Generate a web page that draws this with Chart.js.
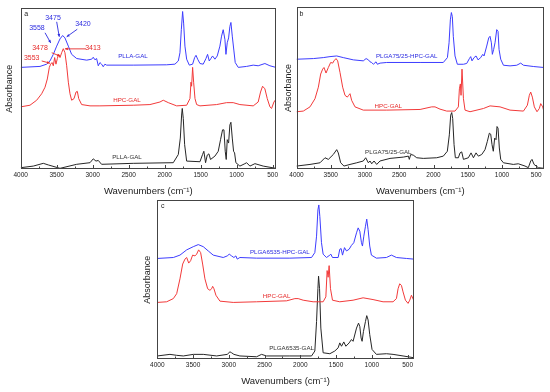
<!DOCTYPE html>
<html>
<head>
<meta charset="utf-8">
<script src="https://cdn.jsdelivr.net/npm/chart.js@4.4.1/dist/chart.umd.min.js"></script>
<style>
  body { margin: 0; background: #fff; width: 550px; height: 392px; position: relative; overflow: hidden; }
  canvas { position: absolute; }
</style>
</head>
<body>
<canvas id="panelA" width="280" height="198"></canvas>
<canvas id="panelB" width="264" height="198"></canvas>
<canvas id="panelC" width="275" height="198"></canvas>
<script>
// FTIR spectra, three panels. x = wavenumber (cm-1), y = absorbance (a.u., offset per trace)

const xTickValues = [4000, 3500, 3000, 2500, 2000, 1500, 1000, 500];
const minorStep = 250;

// ---- panel a ----
const aPllaGalTop = [[4000,63.3],[3732,63.9],[3639,65.3],[3593,67.3],[3547,71.4],[3500,76.5],[3454,81.0],[3417,83.1],[3385,81.6],[3338,76.5],[3292,71.4],[3222,68.8],[3083,67.8],[3014,68.4],[2992,69.6],[2968,68.0],[2945,68.8],[2922,64.3],[2899,66.3],[2876,65.3],[2853,63.7],[2830,65.3],[2806,64.7],[2436,64.7],[1972,64.9],[1857,65.3],[1810,67.3],[1787,72.4],[1768,86.7],[1750,98.0],[1736,90.8],[1718,76.5],[1694,68.4],[1657,64.7],[1611,65.3],[1583,69.4],[1564,70.8],[1541,68.4],[1509,65.7],[1464,65.3],[1426,68.8],[1403,71.4],[1380,67.3],[1357,68.8],[1334,70.4],[1301,68.4],[1269,70.4],[1232,76.5],[1209,82.7],[1186,86.7],[1162,80.6],[1148,71.4],[1130,78.6],[1111,81.6],[1093,88.8],[1079,91.2],[1060,82.7],[1037,73.5],[1019,66.3],[977,63.3],[861,63.9],[769,64.7],[700,64.3],[607,65.7],[537,64.3],[454,63.3]];
const aHpcGal = [[4000,38.8],[3871,39.8],[3778,42.9],[3709,46.9],[3662,51.0],[3630,56.1],[3602,63.3],[3584,65.3],[3565,66.3],[3547,64.3],[3528,69.4],[3510,65.3],[3491,68.8],[3472,71.4],[3454,69.4],[3431,72.4],[3408,74.9],[3385,72.4],[3361,64.3],[3338,54.1],[3315,46.9],[3292,42.9],[3259,43.9],[3231,48.0],[3213,48.4],[3194,43.9],[3153,40.2],[3037,39.4],[2899,39.4],[2436,39.8],[2204,40.2],[2065,41.8],[2019,42.9],[1949,41.4],[1833,39.4],[1694,39.8],[1648,43.9],[1634,54.1],[1625,51.6],[1611,63.3],[1597,54.1],[1578,43.9],[1555,40.2],[1509,39.4],[1278,40.2],[1139,41.4],[1047,41.4],[954,40.2],[769,39.4],[700,41.8],[667,48.0],[639,51.6],[607,50.0],[574,43.9],[537,38.8],[514,37.8],[481,41.8],[463,42.9],[454,40.5]];
const aPllaGal = [[4000,1.0],[3825,2.0],[3686,3.7],[3616,2.7],[3454,0.6],[3222,3.1],[3037,4.1],[2992,6.5],[2954,5.1],[2922,5.5],[2876,3.1],[2436,3.7],[1880,4.1],[1810,9.2],[1782,19.4],[1764,33.7],[1755,37.8],[1741,31.6],[1722,15.3],[1694,5.1],[1509,4.7],[1473,9.2],[1455,11.2],[1431,4.1],[1408,8.8],[1385,9.6],[1362,6.1],[1301,8.2],[1255,11.2],[1223,18.4],[1195,24.5],[1176,24.5],[1158,11.2],[1144,6.1],[1130,18.4],[1111,16.3],[1093,27.6],[1079,29.2],[1060,19.4],[1042,11.2],[1028,10.2],[1010,4.1],[954,2.0],[884,3.5],[861,4.1],[815,2.0],[745,3.5],[630,2.0],[454,0.6]];

// ---- panel b ----
const bPlga7525HpcGal = [[4000,67.7],[3754,68.1],[3609,68.7],[3511,69.3],[3413,69.7],[3317,68.7],[3170,67.3],[3025,66.7],[2984,68.1],[2950,67.3],[2927,66.1],[2903,65.7],[2878,64.6],[2839,66.1],[2820,64.6],[2780,65.3],[2683,65.7],[2196,65.7],[1857,65.7],[1797,68.7],[1773,77.8],[1754,91.9],[1739,96.4],[1725,93.9],[1711,81.8],[1686,69.7],[1652,64.6],[1563,64.6],[1515,65.1],[1476,68.1],[1457,69.3],[1438,66.7],[1408,68.7],[1379,69.7],[1350,67.3],[1311,68.7],[1281,70.7],[1262,69.7],[1223,75.8],[1194,80.8],[1175,81.8],[1155,77.8],[1141,70.7],[1122,73.7],[1102,77.8],[1077,85.9],[1058,84.8],[1043,73.7],[1019,67.7],[979,64.0],[883,63.6],[785,64.0],[727,65.3],[687,64.0],[537,63.2],[387,62.6]];
const bHpcGal = [[4000,35.4],[3901,35.8],[3803,38.4],[3730,43.4],[3681,50.5],[3647,58.6],[3618,61.6],[3599,62.6],[3569,59.2],[3535,62.6],[3501,65.7],[3472,65.3],[3453,66.7],[3423,68.1],[3399,66.7],[3365,59.6],[3326,50.5],[3292,45.5],[3258,44.4],[3238,45.5],[3219,46.5],[3195,42.4],[3146,38.4],[3025,36.4],[2683,36.4],[2196,36.8],[2026,38.4],[1978,38.4],[1905,37.0],[1807,35.8],[1686,35.8],[1637,38.4],[1622,49.5],[1608,52.5],[1598,45.5],[1584,61.6],[1563,43.4],[1540,36.4],[1467,35.4],[1271,37.4],[1175,39.0],[1029,38.4],[883,36.4],[687,35.8],[630,39.4],[601,45.5],[581,47.5],[557,44.4],[528,38.4],[489,35.4],[455,37.4],[435,40.4],[406,38.4],[387,35.4]];
const bPlga7525Gal = [[4000,2.0],[3803,3.0],[3657,4.0],[3584,7.1],[3535,6.1],[3463,9.1],[3413,12.1],[3390,10.1],[3355,4.0],[3307,2.0],[3219,3.0],[3121,4.0],[3025,5.1],[2990,7.1],[2951,4.0],[2927,5.1],[2902,3.4],[2868,5.1],[2829,3.0],[2781,5.1],[2635,6.7],[2441,7.5],[2367,8.1],[2353,6.1],[2333,9.1],[2295,8.7],[2245,7.1],[2149,6.7],[1953,7.1],[1857,8.1],[1798,11.1],[1769,21.2],[1749,33.3],[1734,34.9],[1720,31.3],[1700,15.2],[1681,7.1],[1637,7.1],[1613,10.1],[1588,10.7],[1563,6.1],[1491,7.1],[1452,10.1],[1417,7.1],[1379,10.1],[1345,8.1],[1296,9.1],[1248,12.1],[1214,17.2],[1185,22.2],[1165,21.6],[1146,15.2],[1127,11.1],[1107,19.2],[1087,18.2],[1073,26.3],[1058,25.3],[1039,13.1],[1019,6.1],[979,4.0],[835,3.0],[762,3.4],[664,2.0],[616,1.0],[581,5.1],[562,6.1],[532,3.0],[470,1.0],[387,0.6]];

// ---- panel c ----
const cPlga6535HpcGal = [[4000,63.3],[3776,63.9],[3683,65.4],[3589,68.7],[3497,70.7],[3427,72.0],[3357,70.7],[3287,68.0],[3218,65.4],[3078,63.9],[3022,64.9],[2994,66.0],[2961,64.9],[2929,63.9],[2901,64.9],[2882,62.9],[2845,63.9],[2611,63.5],[2146,63.5],[1843,63.9],[1797,67.0],[1773,77.3],[1754,93.8],[1741,96.9],[1727,89.7],[1704,73.2],[1681,66.0],[1634,63.9],[1587,65.4],[1573,66.0],[1550,63.9],[1471,63.9],[1448,69.1],[1429,69.5],[1410,65.4],[1382,70.1],[1354,68.0],[1317,69.1],[1285,71.5],[1252,73.2],[1214,79.4],[1191,82.5],[1168,80.4],[1145,73.2],[1131,71.1],[1112,77.3],[1089,83.5],[1071,88.0],[1052,81.4],[1029,71.1],[1006,65.4],[936,63.5],[796,63.9],[726,65.4],[656,63.9],[516,63.3],[415,62.9]];
const cHpcGal = [[4000,35.7],[3869,36.1],[3776,38.1],[3729,41.2],[3683,50.5],[3645,59.8],[3613,62.9],[3589,63.9],[3561,60.4],[3534,61.9],[3506,65.4],[3473,64.9],[3450,66.0],[3422,68.7],[3394,67.0],[3366,59.8],[3334,50.5],[3296,44.3],[3264,43.3],[3240,44.3],[3226,45.8],[3208,44.3],[3180,40.2],[3124,36.5],[2938,35.7],[2611,36.1],[2192,36.7],[2076,38.1],[2030,38.1],[1960,37.1],[1821,36.1],[1681,36.1],[1643,39.2],[1625,55.7],[1611,51.5],[1597,58.8],[1578,44.3],[1550,37.1],[1448,36.1],[1262,37.1],[1122,38.6],[983,37.5],[843,36.1],[703,36.1],[656,38.1],[633,44.3],[610,47.4],[586,46.4],[563,42.3],[530,37.1],[493,35.1],[470,37.1],[446,40.2],[415,37.1]];
const cPlga6535Gal = [[4000,2.1],[3823,3.1],[3729,2.5],[3636,2.1],[3497,3.1],[3357,3.1],[3170,2.1],[3022,3.1],[2984,4.7],[2961,4.1],[2929,3.1],[2845,2.1],[2611,1.6],[2542,3.1],[2472,2.1],[2146,2.1],[1843,2.1],[1797,5.2],[1773,23.7],[1754,44.3],[1745,52.2],[1731,44.3],[1713,19.6],[1681,4.1],[1587,3.5],[1518,5.2],[1471,7.2],[1448,10.3],[1424,8.2],[1392,10.9],[1363,8.2],[1317,10.3],[1285,12.4],[1262,11.3],[1214,19.6],[1186,22.7],[1168,20.6],[1150,13.4],[1136,11.3],[1117,17.5],[1089,23.7],[1071,27.4],[1052,24.7],[1029,15.5],[997,6.2],[936,3.1],[796,3.5],[703,3.1],[563,2.1],[415,1.0]];

const BLUE = '#3d3dff';
const RED = '#f23a3a';
const BLACK = '#262626';
const FONT = '"Liberation Sans", Arial, sans-serif';

function trace(label, points, color) {
    return {
        label: label,
        data: points.map(p => ({ x: p[0], y: p[1] })),
        borderColor: color,
        borderWidth: 1,
        pointRadius: 0,
        tension: 0,
        fill: false
    };
}

// frame round the plot area, with short inward ticks on the bottom edge
const frameTicks = {
    id: 'frameTicks',
    afterDatasetsDraw(chart) {
        const { ctx, chartArea: a, scales: { x } } = chart;
        const l = Math.round(a.left) + 0.5, r = Math.round(a.right) - 0.5;
        const t = Math.round(a.top) + 0.5, b = Math.round(a.bottom) - 0.5;
        ctx.save();
        ctx.strokeStyle = '#444';
        ctx.lineWidth = 1;
        ctx.strokeRect(l, t, r - l, b - t);
        for (let v = 4000; v >= x.min; v -= minorStep) {
            const px = Math.round(x.getPixelForValue(v)) + 0.5;
            const len = v % 500 === 0 ? 3.5 : 2;
            ctx.beginPath();
            ctx.moveTo(px, b);
            ctx.lineTo(px, b - len);
            ctx.stroke();
        }
        ctx.restore();
    }
};

// trace names, band positions and arrows, placed in data units
function panelText(items, arrows) {
    return {
        id: 'panelText',
        afterDatasetsDraw(chart) {
            const { ctx, scales: { x, y } } = chart;
            ctx.save();
            arrows.forEach(a => {
                const x1 = x.getPixelForValue(a.from[0]), y1 = y.getPixelForValue(a.from[1]);
                const x2 = x.getPixelForValue(a.to[0]), y2 = y.getPixelForValue(a.to[1]);
                const ang = Math.atan2(y2 - y1, x2 - x1);
                ctx.strokeStyle = a.color;
                ctx.fillStyle = a.color;
                ctx.lineWidth = 0.9;
                ctx.beginPath();
                ctx.moveTo(x1, y1);
                ctx.lineTo(x2, y2);
                ctx.stroke();
                ctx.beginPath();
                ctx.moveTo(x2, y2);
                ctx.lineTo(x2 - 3.2 * Math.cos(ang - 0.45), y2 - 3.2 * Math.sin(ang - 0.45));
                ctx.lineTo(x2 - 3.2 * Math.cos(ang + 0.45), y2 - 3.2 * Math.sin(ang + 0.45));
                ctx.closePath();
                ctx.fill();
            });
            items.forEach(t => {
                ctx.font = (t.size || 6.2) + 'px ' + FONT;
                ctx.fillStyle = t.color;
                ctx.textAlign = t.align || 'center';
                ctx.textBaseline = 'middle';
                ctx.fillText(t.text, x.getPixelForValue(t.x), y.getPixelForValue(t.y));
            });
            ctx.restore();
        }
    };
}

function makePanel(p) {
    const canvas = document.getElementById(p.id);
    canvas.style.left = p.left + 'px';
    canvas.style.top = p.top + 'px';
    new Chart(canvas, {
        type: 'line',
        data: { datasets: p.sets },
        options: {
            responsive: false,
            animation: false,
            events: [],
            layout: { padding: { top: p.padTop, right: 0, bottom: 0, left: 0 } },
            plugins: { legend: { display: false }, tooltip: { enabled: false } },
            scales: {
                x: {
                    type: 'linear',
                    reverse: true,
                    min: p.xMin,
                    max: 4000,
                    grid: { display: false, drawTicks: false },
                    border: { display: false },
                    afterBuildTicks: s => { s.ticks = xTickValues.filter(v => v >= p.xMin).map(v => ({ value: v })); },
                    ticks: {
                        autoSkip: false, maxRotation: 0, padding: 2, color: '#222',
                        font: { family: FONT, size: 6.5 },
                        callback: v => String(v)
                    },
                    title: {
                        display: true, text: 'Wavenumbers (cm⁻¹)', color: '#222',
                        font: { family: FONT, size: 9.5 },
                        padding: { top: 4.5, bottom: 1 }
                    }
                },
                y: {
                    min: 0,
                    max: 100,
                    grid: { display: false, drawTicks: false },
                    border: { display: false },
                    ticks: { display: false },
                    title: {
                        display: true, text: 'Absorbance', color: '#222',
                        font: { family: FONT, size: 9 },
                        padding: { top: p.yPad[0], bottom: p.yPad[1] }
                    }
                }
            }
        },
        plugins: [frameTicks, panelText(p.texts, p.arrows || [])]
    });
}

makePanel({
    id: 'panelA', left: 0, top: 0, padTop: 8.3, xMin: 454, yPad: [4.6, 5.3],
    sets: [
        trace('PLLA-GAL (top)', aPllaGalTop, BLUE),
        trace('HPC-GAL', aHpcGal, RED),
        trace('PLLA-GAL', aPllaGal, BLACK)
    ],
    texts: [
        { text: 'a', x: 3950, y: 96.7, align: 'left', color: '#222', size: 7 },
        { text: 'PLLA-GAL', x: 2440, y: 70.1, color: '#2b2be0' },
        { text: 'HPC-GAL', x: 2523, y: 42.7, color: '#e62a2a' },
        { text: 'PLLA-GAL', x: 2523, y: 7.3, color: '#333' },
        { text: '3558', x: 3774, y: 87.8, color: '#2b2be0', size: 7 },
        { text: '3475', x: 3551, y: 93.9, color: '#2b2be0', size: 7 },
        { text: '3420', x: 3135, y: 90.2, color: '#2b2be0', size: 7 },
        { text: '3478', x: 3732, y: 75.6, color: '#e62a2a', size: 7 },
        { text: '3553', x: 3847, y: 69.3, color: '#e62a2a', size: 7 },
        { text: '3413', x: 2996, y: 75.6, color: '#e62a2a', size: 7 }
    ],
    arrows: [
        { from: [3662, 84.8], to: [3583, 78.5], color: '#2b2be0' },
        { from: [3500, 91.6], to: [3464, 82.3], color: '#2b2be0' },
        { from: [3214, 87.0], to: [3361, 82.3], color: '#2b2be0' },
        { from: [3569, 72.4], to: [3454, 70.3], color: '#e62a2a' },
        { from: [3708, 67.3], to: [3593, 65.9], color: '#e62a2a' },
        { from: [3093, 74.8], to: [3385, 74.8], color: '#e62a2a' }
    ]
});

makePanel({
    id: 'panelB', left: 280, top: 0, padTop: 6.7, xMin: 387, yPad: [2.9, 2.8],
    sets: [
        trace('PLGA75/25-HPC-GAL', bPlga7525HpcGal, BLUE),
        trace('HPC-GAL', bHpcGal, RED),
        trace('PLGA75/25-GAL', bPlga7525Gal, BLACK)
    ],
    texts: [
        { text: 'b', x: 3956, y: 95.6, align: 'left', color: '#222', size: 7 },
        { text: 'PLGA75/25-HPC-GAL', x: 2391, y: 69.3, color: '#2b2be0' },
        { text: 'HPC-GAL', x: 2660, y: 39, color: '#e62a2a' },
        { text: 'PLGA75/25-GAL', x: 2660, y: 10.7, color: '#333' }
    ]
});

makePanel({
    id: 'panelC', left: 140, top: 190, padTop: 10, xMin: 415, yPad: [1.9, 4.6],
    sets: [
        trace('PLGA6535-HPC-GAL', cPlga6535HpcGal, BLUE),
        trace('HPC-GAL', cHpcGal, RED),
        trace('PLGA6535-GAL', cPlga6535Gal, BLACK)
    ],
    texts: [
        { text: 'c', x: 3948, y: 95.9, align: 'left', color: '#222', size: 7 },
        { text: 'PLGA6535-HPC-GAL', x: 2286, y: 67.4, color: '#2b2be0' },
        { text: 'HPC-GAL', x: 2332, y: 39.8, color: '#e62a2a' },
        { text: 'PLGA6535-GAL', x: 2122, y: 6.8, color: '#333' }
    ]
});
</script>
</body>
</html>
